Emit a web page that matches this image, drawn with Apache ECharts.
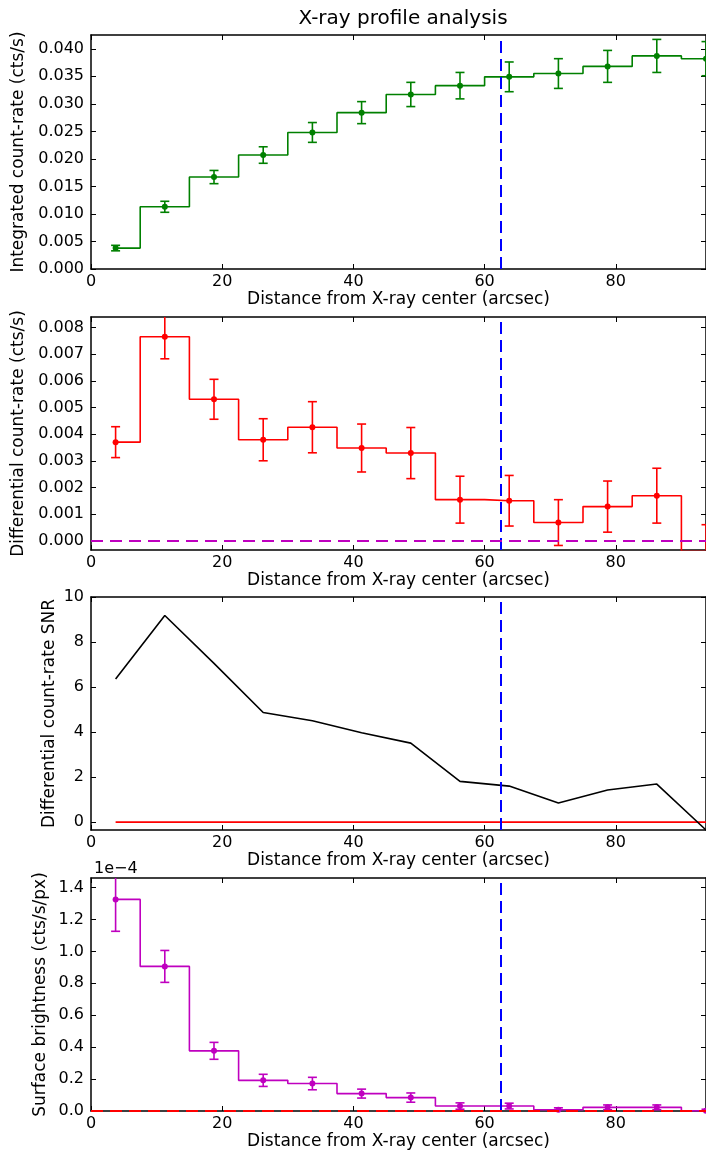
<!DOCTYPE html>
<html>
<head>
<meta charset="utf-8">
<title>X-ray profile analysis</title>
<script src="https://cdn.jsdelivr.net/npm/echarts@6/dist/echarts.min.js"></script>
<style>
  html, body { margin: 0; padding: 0; background: #fff; }
  #chart { width: 706px; height: 1158px; }
</style>
</head>
<body>
<div id="chart"></div>
<script>
// bin centres (arcsec)
const radii = [3.75, 11.25, 18.75, 26.25, 33.75, 41.25, 48.75, 56.25, 63.75, 71.25, 78.75, 86.25, 93.75]
// integrated count-rate (cts/s)
const intRate = [0.0038, 0.0113, 0.0167, 0.0207, 0.0248, 0.0284, 0.0317, 0.0333, 0.0349, 0.0355, 0.0368, 0.0387, 0.0382]
const intErr = [0.0005, 0.001, 0.0012, 0.0015, 0.0018, 0.002, 0.0022, 0.0024, 0.0027, 0.0027, 0.0029, 0.003, 0.0031]
// differential count-rate (cts/s)
const diffRate = [0.0037, 0.00766, 0.00531, 0.00379, 0.00426, 0.00348, 0.00329, 0.00154, 0.0015, 0.00068, 0.00128, 0.00169, -0.0004]
const diffErr = [0.00058, 0.00083, 0.00075, 0.00079, 0.00096, 0.0009, 0.00096, 0.00088, 0.00095, 0.00086, 0.00096, 0.00103, 0.001]
// differential SNR
const snr = [6.36, 9.18, 7.05, 4.87, 4.5, 3.97, 3.51, 1.81, 1.6, 0.85, 1.43, 1.69, -0.35]
// surface brightness, in units of 1e-4 cts/s/px
const sbE4 = [1.326, 0.906, 0.377, 0.192, 0.172, 0.109, 0.084, 0.031, 0.031, 0.008, 0.023, 0.023, 0.001]
const sbErrE4 = [0.2, 0.1, 0.053, 0.038, 0.039, 0.028, 0.029, 0.02, 0.018, 0.012, 0.015, 0.015, 0.01]
// cut radius
const rCut = 62.5

// tick labels
const xTicks = [0, 20, 40, 60, 80]
const intTicks = [0, 0.005, 0.01, 0.015, 0.02, 0.025, 0.03, 0.035, 0.04]
const diffTicks = [0, 0.001, 0.002, 0.003, 0.004, 0.005, 0.006, 0.007, 0.008]
const snrTicks = [0, 2, 4, 6, 8, 10]
const sbTicks = [0, 0.2, 0.4, 0.6, 0.8, 1.0, 1.2, 1.4]

const FONT = 'DejaVu Sans'
const xName = 'Distance from X-ray center (arcsec)'

// panel boxes
const panels = [
  { top: 35, height: 234, ymin: 0, ymax: 0.0425, ticks: intTicks, fmt: v => v.toFixed(3), name: 'Integrated count-rate (cts/s)', gap: 64 },
  { top: 317, height: 233, ymin: -0.00035, ymax: 0.0084, ticks: diffTicks, fmt: v => v.toFixed(3), name: 'Differential count-rate (cts/s)', gap: 64 },
  { top: 597, height: 233, ymin: -0.35, ymax: 10, ticks: snrTicks, fmt: v => String(Math.round(v)), name: 'Differential count-rate SNR', gap: 33 },
  { top: 878, height: 233, ymin: 0, ymax: 1.46, ticks: sbTicks, fmt: v => v.toFixed(1), name: 'Surface brightness (cts/s/px)', gap: 42 }
]

const tickStyle = { inside: true, length: 5, lineStyle: { color: '#000', width: 1 } }
const spine = { onZero: false, lineStyle: { color: '#000', width: 1.5 } }
const labelStyle = { color: '#000', fontFamily: FONT, fontSize: 16 }
const nameStyle = { color: '#000', fontFamily: FONT, fontSize: 17 }

const grids = []
const xAxes = []
const yAxes = []
panels.forEach((p, i) => {
  grids.push({ left: 91, top: p.top, width: 616, height: p.height })
  xAxes.push({
    gridIndex: i, type: 'value', min: 0, max: 93.75, position: 'bottom',
    axisLine: spine, splitLine: { show: false },
    axisTick: Object.assign({ customValues: xTicks }, tickStyle),
    axisLabel: Object.assign({ customValues: xTicks, margin: 5 }, labelStyle),
    name: xName, nameLocation: 'middle', nameGap: 22, nameTextStyle: nameStyle,
    nameMoveOverlap: false
  })
  xAxes.push({
    gridIndex: i, type: 'value', min: 0, max: 93.75, position: 'top',
    axisLine: spine, splitLine: { show: false },
    axisTick: Object.assign({ customValues: xTicks }, tickStyle),
    axisLabel: { show: false }
  })
  yAxes.push({
    gridIndex: i, type: 'value', min: p.ymin, max: p.ymax, position: 'left',
    axisLine: spine, splitLine: { show: false },
    axisTick: Object.assign({ customValues: p.ticks }, tickStyle),
    axisLabel: Object.assign({ customValues: p.ticks, margin: 7, formatter: p.fmt }, labelStyle),
    name: p.name, nameLocation: 'middle', nameRotate: 90, nameGap: p.gap, nameTextStyle: nameStyle,
    nameMoveOverlap: false
  })
  yAxes.push({
    gridIndex: i, type: 'value', min: p.ymin, max: p.ymax, position: 'right',
    axisLine: spine, splitLine: { show: false },
    axisTick: Object.assign({ customValues: p.ticks }, tickStyle),
    axisLabel: { show: false }
  })
})

// vertical dashed line at the cut radius
const cutLine = {
  silent: true, symbol: 'none', label: { show: false },
  lineStyle: { color: '#0000ff', type: [12, 6], width: 2 },
  data: [{ xAxis: rCut }]
}

// step line with dots
function stepSeries (i, vals, color) {
  return {
    type: 'line', xAxisIndex: i * 2, yAxisIndex: i * 2, step: 'middle',
    data: radii.map((r, k) => [r, vals[k]]),
    symbol: 'circle', symbolSize: 6, showSymbol: true,
    itemStyle: { color: color },
    lineStyle: { color: color, width: 1.6 },
    markLine: cutLine, z: 3
  }
}

// error bars with caps
function errSeries (i, vals, errs, color) {
  return {
    type: 'custom', xAxisIndex: i * 2, yAxisIndex: i * 2, clip: true,
    data: radii.map((r, k) => [r, vals[k], errs[k]]),
    renderItem: function (params, api) {
      const x = api.value(0)
      const y = api.value(1)
      const e = api.value(2)
      const hi = api.coord([x, y + e])
      const lo = api.coord([x, y - e])
      const hw = 4.5
      const style = { stroke: color, lineWidth: 1.6 }
      return {
        type: 'group',
        children: [
          { type: 'line', shape: { x1: hi[0], y1: hi[1], x2: lo[0], y2: lo[1] }, style: style },
          { type: 'line', shape: { x1: hi[0] - hw, y1: hi[1], x2: hi[0] + hw, y2: hi[1] }, style: style },
          { type: 'line', shape: { x1: lo[0] - hw, y1: lo[1], x2: lo[0] + hw, y2: lo[1] }, style: style }
        ]
      }
    },
    z: 4
  }
}

const green = '#008000'
const red = '#ff0000'
const magenta = '#bf00bf'

const series = [
  stepSeries(0, intRate, green),
  errSeries(0, intRate, intErr, green),

  stepSeries(1, diffRate, red),
  errSeries(1, diffRate, diffErr, red),
  {
    type: 'line', xAxisIndex: 2, yAxisIndex: 2, data: [],
    markLine: {
      silent: true, symbol: 'none', label: { show: false },
      lineStyle: { color: magenta, type: [12, 7], width: 2.2 },
      data: [{ yAxis: 0 }]
    }
  },

  {
    type: 'line', xAxisIndex: 4, yAxisIndex: 4,
    data: radii.map((r, k) => [r, snr[k]]),
    showSymbol: false, lineStyle: { color: '#000', width: 1.6 },
    markLine: cutLine, z: 3
  },
  {
    type: 'line', xAxisIndex: 4, yAxisIndex: 4,
    data: radii.map(r => [r, 0]),
    showSymbol: false, lineStyle: { color: red, width: 1.6 }, z: 2
  },

  stepSeries(3, sbE4, magenta),
  errSeries(3, sbE4, sbErrE4, magenta),
  {
    type: 'line', xAxisIndex: 6, yAxisIndex: 6, data: [],
    markLine: {
      silent: true, symbol: 'none', label: { show: false },
      lineStyle: { color: red, type: [12, 7], width: 2.2 },
      data: [{ yAxis: 0 }]
    }
  }
]

const chart = echarts.init(document.getElementById('chart'), null, { renderer: 'canvas' })
chart.setOption({
  animation: false,
  backgroundColor: '#fff',
  title: [
    { text: 'X-ray profile analysis', left: 398, top: 4, textAlign: 'center',
      textStyle: { color: '#000', fontFamily: FONT, fontSize: 20, fontWeight: 'normal' } },
    { text: '1e\u22124', left: 89, top: 856,
      textStyle: { color: '#000', fontFamily: FONT, fontSize: 16, fontWeight: 'normal' } }
  ],
  grid: grids,
  xAxis: xAxes,
  yAxis: yAxes,
  series: series
})
</script>
</body>
</html>
